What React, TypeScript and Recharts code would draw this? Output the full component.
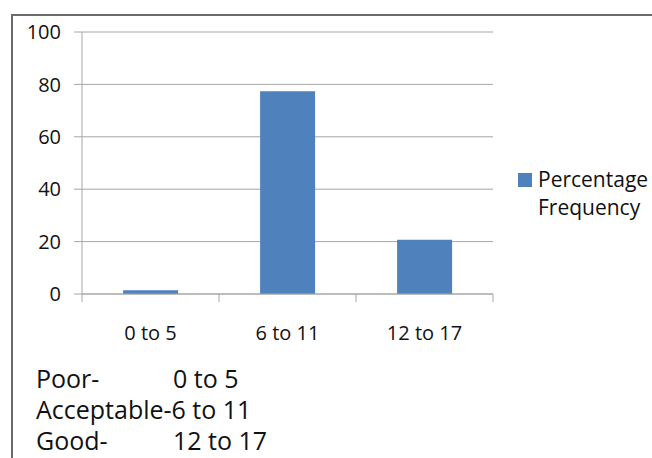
import React from 'react';
import { BarChart, Bar, XAxis, YAxis, CartesianGrid } from 'recharts';

const categories = ['0 to 5', '6 to 11', '12 to 17'];
const percentageFrequency = [1.4, 77.4, 20.7];
const yTicks = [0, 20, 40, 60, 80, 100];
const ratingNames = ['Poor-', 'Acceptable-', 'Good-'];
const ratingRanges = ['0 to 5', '6 to 11', '12 to 17'];

const seriesName = 'Percentage Frequency';
const BLUE = '#4F81BD';
const FONT = '"Open Sans", Lato, sans-serif';

const data = categories.map((c, i) => ({ range: c, value: percentageFrequency[i] }));

// plot box inside the chart
const PLOT_LEFT = 82;
const PLOT_RIGHT = 493;
const HALF_BAND = (PLOT_RIGHT - PLOT_LEFT) / categories.length / 2;

function CategoryTick(props: any) {
    const { x, y, payload, index } = props;
    return (
        <g>
            <line x1={x - HALF_BAND} y1={y - 8} x2={x - HALF_BAND} y2={y} stroke="#a6a6a6" />
            {index === categories.length - 1 && (
                <line x1={x + HALF_BAND} y1={y - 8} x2={x + HALF_BAND} y2={y} stroke="#a6a6a6" />
            )}
            <text x={x} y={y + 38} textAnchor="middle" fill="#111" fontSize={20} fontFamily={FONT}>
                {payload.value}
            </text>
        </g>
    );
}

export default function App() {
    return (
        <div style={{ position: 'absolute', left: 0, top: 0, width: 652, height: 458, background: '#fff', overflow: 'hidden' }}>
            <div style={{ position: 'absolute', left: 11, top: 14, width: 660, height: 460, borderTop: '2px solid #6b6b6b', borderLeft: '2px solid #6b6b6b' }} />
            <div style={{ position: 'absolute', left: 0, top: 0 }}>
                <BarChart
                    width={652}
                    height={354}
                    data={data}
                    margin={{ top: 32, right: 652 - PLOT_RIGHT, bottom: 0, left: 0 }}
                    barCategoryGap="30%"
                >
                    <CartesianGrid vertical={false} stroke="#a6a6a6" />
                    <XAxis
                        dataKey="range"
                        tickLine={false}
                        axisLine={{ stroke: '#a6a6a6' }}
                        tick={<CategoryTick />}
                        height={60}
                        interval={0}
                    />
                    <YAxis
                        width={PLOT_LEFT}
                        domain={[0, 100]}
                        ticks={yTicks}
                        tickSize={8}
                        tickMargin={13}
                        tickLine={{ stroke: '#a6a6a6' }}
                        axisLine={{ stroke: '#a6a6a6' }}
                        tick={{ fill: '#111', fontSize: 20, fontFamily: FONT }}
                    />
                    <Bar dataKey="value" name={seriesName} fill={BLUE} isAnimationActive={false} />
                </BarChart>
            </div>
            <div style={{ position: 'absolute', left: 518, top: 165, display: 'flex', alignItems: 'flex-start', fontFamily: FONT, fontSize: 21, color: '#111', lineHeight: '28px' }}>
                <span style={{ width: 14, height: 14, background: BLUE, marginTop: 8, marginRight: 6, flex: 'none' }} />
                <span style={{ width: 120 }}>{seriesName}</span>
            </div>
            {ratingNames.map((name, i) => (
                <div
                    key={name}
                    style={{ position: 'absolute', left: 36, top: 364 + i * 31, fontFamily: FONT, fontSize: 25, color: '#111', lineHeight: '28px', whiteSpace: 'nowrap' }}
                >
                    {i === 1 ? (
                        <span>{name + ratingRanges[i]}</span>
                    ) : (
                        <>
                            <span style={{ display: 'inline-block', width: 137 }}>{name}</span>
                            <span>{ratingRanges[i]}</span>
                        </>
                    )}
                </div>
            ))}
        </div>
    );
}
